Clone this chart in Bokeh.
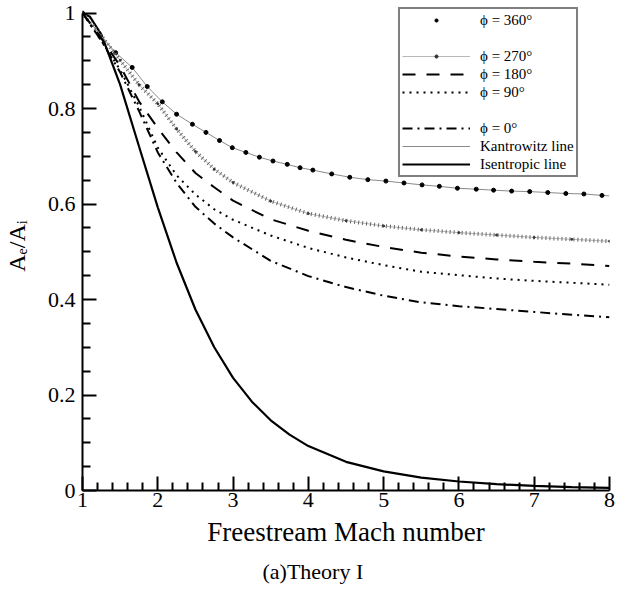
from bokeh.plotting import figure
from bokeh.models import (Range1d, FixedTicker, CustomJSTickFormatter, Legend,
                          LegendItem, Title)
from bokeh.embed import file_html
from bokeh.resources import INLINE

# ---------------- data ----------------
mach_360 = [1.0, 1.22, 1.44, 1.66, 1.86, 2.06, 2.25, 2.46, 2.64, 2.82, 2.99,
            3.17, 3.35, 3.53, 3.72, 3.89, 4.06, 4.31, 4.55, 4.79, 5.03, 5.27,
            5.51, 5.74, 5.98, 6.23, 6.46, 6.70, 6.94, 7.18, 7.42, 7.66, 7.90]
phi_360 = [1.0, 0.957, 0.917, 0.886, 0.846, 0.814, 0.788, 0.767, 0.750,
           0.733, 0.718, 0.708, 0.698, 0.690, 0.683, 0.676, 0.671, 0.663,
           0.656, 0.651, 0.648, 0.644, 0.640, 0.637, 0.633, 0.631, 0.629,
           0.627, 0.626, 0.624, 0.622, 0.621, 0.618]

mach_kan = [1.0, 1.22, 1.44, 1.66, 1.86, 2.06, 2.25, 2.46, 2.64, 2.82, 2.99,
            3.17, 3.35, 3.53, 3.72, 3.89, 4.06, 4.31, 4.55, 4.79, 5.03, 5.27,
            5.51, 5.74, 5.98, 6.23, 6.46, 6.70, 6.94, 7.18, 7.42, 7.66, 7.90,
            8.0]
kantrowitz = [1.0, 0.957, 0.917, 0.886, 0.846, 0.814, 0.788, 0.767, 0.750,
              0.733, 0.718, 0.708, 0.698, 0.690, 0.683, 0.676, 0.671, 0.663,
              0.656, 0.651, 0.648, 0.644, 0.640, 0.637, 0.633, 0.631, 0.629,
              0.627, 0.626, 0.624, 0.622, 0.621, 0.618, 0.617]

mach = [1.0, 1.25, 1.5, 1.75, 2.0, 2.25, 2.5, 2.75, 3.0, 3.5, 4.0, 4.5, 5.0,
        5.5, 6.0, 6.5, 7.0, 7.5, 8.0]
phi_270 = [1.0, 0.952, 0.901, 0.850, 0.810, 0.757, 0.710, 0.673, 0.645,
           0.606, 0.580, 0.565, 0.554, 0.546, 0.540, 0.535, 0.530, 0.526,
           0.522]
phi_180 = [1.0, 0.947, 0.889, 0.815, 0.759, 0.708, 0.665, 0.635, 0.607,
           0.568, 0.544, 0.525, 0.510, 0.498, 0.490, 0.484, 0.479, 0.475,
           0.470]
phi_90 = [1.0, 0.942, 0.881, 0.805, 0.718, 0.660, 0.620, 0.589, 0.567,
          0.534, 0.508, 0.488, 0.472, 0.458, 0.451, 0.444, 0.439, 0.435,
          0.431]
phi_0 = [1.0, 0.942, 0.876, 0.795, 0.708, 0.644, 0.594, 0.559, 0.530,
         0.481, 0.449, 0.426, 0.408, 0.394, 0.386, 0.380, 0.374, 0.368,
         0.363]

mach_is = [1.0, 1.1, 1.25, 1.5, 1.75, 2.0, 2.25, 2.5, 2.75, 3.0, 3.25, 3.5,
           3.75, 4.0, 4.5, 5.0, 5.5, 6.0, 6.5, 7.0, 7.5, 8.0]
isentropic = [1.0, 0.992, 0.955, 0.850, 0.721, 0.593, 0.477, 0.379, 0.300,
              0.236, 0.186, 0.147, 0.117, 0.093, 0.060, 0.040, 0.027, 0.0188,
              0.0133, 0.0096, 0.0071, 0.0053]

x_ticks = [1, 2, 3, 4, 5, 6, 7, 8]
x_minor = [1.2, 1.4, 1.6, 1.8, 2.2, 2.4, 2.6, 2.8, 3.2, 3.4, 3.6, 3.8,
           4.2, 4.4, 4.6, 4.8, 5.2, 5.4, 5.6, 5.8, 6.2, 6.4, 6.6, 6.8,
           7.2, 7.4, 7.6, 7.8]
y_ticks = [0, 0.2, 0.4, 0.6, 0.8, 1]
y_minor = [0.05, 0.1, 0.15, 0.25, 0.3, 0.35, 0.45, 0.5, 0.55, 0.65, 0.7,
           0.75, 0.85, 0.9, 0.95]

SERIF = "Liberation Serif"

p = figure(width=616, height=592, x_range=Range1d(1, 8),
           y_range=Range1d(0, 1.0241), output_backend="svg",
           toolbar_location=None, min_border_left=81, min_border_right=7,
           min_border_top=1, min_border_bottom=102)
p.outline_line_color = None
p.grid.visible = False
p.background_fill_color = "white"

# curves
r_is = p.line(mach_is, isentropic, line_color="black", line_width=2.2)
r_kan = p.line(mach_kan, kantrowitz, line_color="#8a8a8a", line_width=1)
r_360 = p.scatter(mach_360, phi_360, marker="circle", size=4,
                  fill_color="black", line_color="black")
r_270a = p.line(mach, phi_270, line_color="#9a9a9a", line_width=0.7)
p.line(mach, phi_270, line_color="#666666", line_width=4, line_dash="1 3")
r_270b = p.scatter(mach, phi_270, marker="circle", size=2,
                   fill_color="#333333", line_color="#333333")
r_180 = p.line(mach, phi_180, line_color="black", line_width=2,
               line_dash="13 11")
r_90 = p.line(mach, phi_90, line_color="black", line_width=2,
              line_dash="2 5")
r_0 = p.line(mach, phi_0, line_color="black", line_width=2,
             line_dash="10 5 2 5")
blank1 = p.line([], [], line_alpha=0)
blank2 = p.line([], [], line_alpha=0)

# axes
for ax in (p.xaxis[0], p.yaxis[0]):
    ax.axis_line_width = 2
    ax.axis_line_color = "black"
    ax.major_tick_in = 14
    ax.major_tick_out = 0
    ax.minor_tick_in = 8
    ax.minor_tick_out = 0
    ax.major_tick_line_width = 2
    ax.minor_tick_line_width = 2
    ax.major_tick_line_color = "black"
    ax.minor_tick_line_color = "black"
    ax.major_label_text_font = SERIF
    ax.major_label_text_font_size = "22px"
    ax.major_label_text_color = "black"
    ax.axis_label_text_font = SERIF
    ax.axis_label_text_font_style = "normal"
    ax.axis_label_text_color = "black"

p.xaxis[0].ticker = FixedTicker(ticks=x_ticks, minor_ticks=x_minor)
p.yaxis[0].ticker = FixedTicker(ticks=y_ticks, minor_ticks=y_minor)
p.yaxis[0].formatter = CustomJSTickFormatter(code="return String(tick);")
p.yaxis[0].bounds = (0, 1)
p.xaxis[0].major_label_standoff = 2
p.yaxis[0].major_label_standoff = 7
p.xaxis[0].axis_label = "Freestream Mach number"
p.xaxis[0].axis_label_text_font_size = "27px"
p.xaxis[0].axis_label_standoff = 7
p.yaxis[0].axis_label = "Aₑ/Aᵢ"
p.yaxis[0].axis_label_text_font_size = "24px"
p.yaxis[0].axis_label_standoff = 15

# legend
legend = Legend(items=[
    LegendItem(label="ϕ = 360°", renderers=[r_360]),
    LegendItem(label=" ", renderers=[blank1]),
    LegendItem(label="ϕ = 270°", renderers=[r_270a, r_270b]),
    LegendItem(label="ϕ = 180°", renderers=[r_180]),
    LegendItem(label="ϕ = 90°", renderers=[r_90]),
    LegendItem(label=" ", renderers=[blank2]),
    LegendItem(label="ϕ = 0°", renderers=[r_0]),
    LegendItem(label="Kantrowitz line", renderers=[r_kan]),
    LegendItem(label="Isentropic line", renderers=[r_is]),
], location=(316, 313))
legend.label_text_font = SERIF
legend.label_text_font_size = "15px"
legend.label_text_color = "black"
legend.label_height = 18
legend.glyph_height = 8
legend.glyph_width = 68
legend.label_standoff = 10
legend.spacing = 0
legend.padding = 2
legend.margin = 0
legend.border_line_color = "black"
legend.border_line_width = 2
legend.background_fill_color = "white"
legend.background_fill_alpha = 1
p.add_layout(legend, "center")

caption = Title(text="(a)Theory I", align="left", offset=180,
                text_font=SERIF, text_font_size="22px",
                text_font_style="normal", text_color="black", standoff=14)
p.add_layout(caption, "below")

open("out.html", "w").write(file_html(p, INLINE))
